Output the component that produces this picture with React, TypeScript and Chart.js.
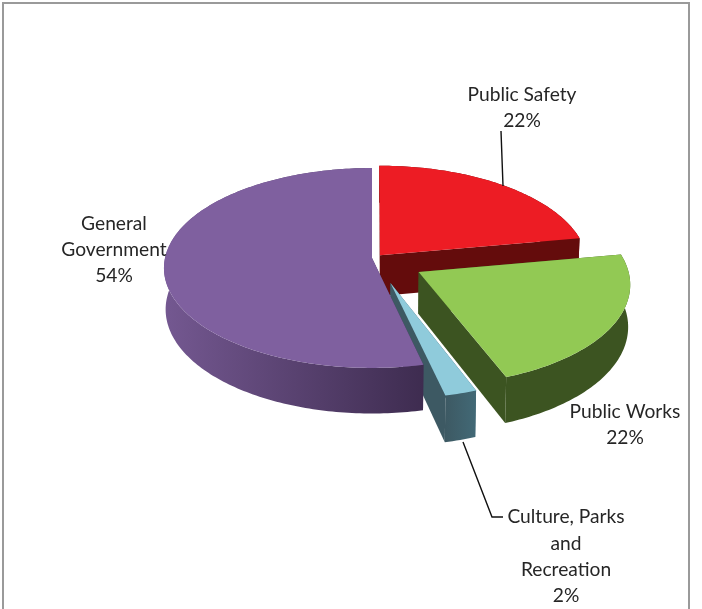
import React, { useEffect, useRef } from "react";
import { Chart, registerables } from "chart.js";

Chart.register(...registerables);

const categories = ["Public Safety", "Public Works", "Culture, Parks and Recreation", "General Government"];
const percentages = [22.2, 22.0, 2.2, 53.6];
const faceColors = ["#ed1c24", "#92c954", "#8fcbdb", "#7f609f"];
const wallLeft = ["#640c0c", "#3c5421", "#3d5963", "#745891"];
const wallRight = ["#640c0c", "#3c5421", "#426976", "#3e2c50"];
// how far each slice is pulled out of the pie, as [sideways, towards viewer] px in the pie plane
const explodeX = [8, 46, 18, 0];
const explodeY = [-6, 29, 51, 0];
const paintOrder = [0, 2, 3, 1];

const labelLines = [
  ["Public Safety", "22%"],
  ["Public Works", "22%"],
  ["Culture, Parks", "and", "Recreation", "2%"],
  ["General", "Government", "54%"],
];
const labelX = [522, 625, 566, 114];
const labelY = [95, 412, 517, 224];
const labelStep = [26, 26, 26.4, 26];

const TILT = 0.478;
const PERSPECTIVE = 0.1;
const DEPTH = 41;

const piePlugin = {
  id: "pie3d",
  beforeDatasetDraw(chart: any) {
    const ctx: CanvasRenderingContext2D = chart.ctx;
    const arcs = chart.getDatasetMeta(0).data;

    const project = (arc: any, px: number, py: number, low: boolean) => {
      const w = 1 / (1 - (PERSPECTIVE * py) / arc.outerRadius);
      const x = arc.x + px * w * (low ? 0.992 : 1);
      const y = arc.y + TILT * py * w + (low ? DEPTH * w : 0);
      return [x, y];
    };
    const trace = (pts: number[][]) => {
      ctx.beginPath();
      pts.forEach((p, i) => (i ? ctx.lineTo(p[0], p[1]) : ctx.moveTo(p[0], p[1])));
      ctx.closePath();
    };

    paintOrder.forEach((i) => {
      const arc = arcs[i];
      const R = arc.outerRadius;
      const ex = explodeX[i];
      const ey = explodeY[i];
      const rim: number[][] = [];
      const steps = Math.max(8, Math.ceil(((arc.endAngle - arc.startAngle) * 180) / Math.PI));
      for (let s = 0; s <= steps; s++) {
        const a = arc.startAngle + ((arc.endAngle - arc.startAngle) * s) / steps;
        rim.push([ex + R * Math.cos(a), ey + R * Math.sin(a)]);
      }
      const topRim = rim.map((p) => project(arc, p[0], p[1], false));
      const lowRim = rim.map((p) => project(arc, p[0], p[1], true));
      const apexTop = project(arc, ex, ey, false);
      const apexLow = project(arc, ex, ey, true);

      const xs = topRim.map((p) => p[0]);
      const grad = ctx.createLinearGradient(Math.min(...xs), 0, Math.max(...xs), 0);
      grad.addColorStop(0, wallLeft[i]);
      grad.addColorStop(1, wallRight[i]);
      ctx.fillStyle = grad;

      trace([apexTop, topRim[0], lowRim[0], apexLow]);
      ctx.fill();
      trace([apexTop, topRim[steps], lowRim[steps], apexLow]);
      ctx.fill();
      trace([...topRim, ...lowRim.slice().reverse()]);
      ctx.fill();

      ctx.fillStyle = arc.options.backgroundColor;
      trace([apexTop, ...topRim]);
      ctx.fill();
    });
    return false;
  },
  afterDraw(chart: any) {
    const ctx: CanvasRenderingContext2D = chart.ctx;
    ctx.save();

    ctx.strokeStyle = "#9a9a9a";
    ctx.lineWidth = 2;
    ctx.beginPath();
    ctx.moveTo(3, 609);
    ctx.lineTo(3, 3);
    ctx.lineTo(689, 3);
    ctx.lineTo(689, 609);
    ctx.stroke();

    ctx.strokeStyle = "#111111";
    ctx.lineWidth = 1.4;
    ctx.beginPath();
    ctx.moveTo(501, 131);
    ctx.lineTo(503, 186);
    ctx.moveTo(463, 442);
    ctx.lineTo(492, 517);
    ctx.lineTo(503, 517);
    ctx.stroke();

    ctx.fillStyle = "#262626";
    ctx.font = '19.2px Lato, "Open Sans", sans-serif';
    ctx.textAlign = "center";
    ctx.textBaseline = "middle";
    labelLines.forEach((lines, i) => {
      lines.forEach((line, j) => ctx.fillText(line, labelX[i], labelY[i] + j * labelStep[i]));
    });
    ctx.restore();
  },
};

export default function App() {
  const ref = useRef<HTMLCanvasElement>(null);
  useEffect(() => {
    const chart = new Chart(ref.current as HTMLCanvasElement, {
      type: "pie",
      data: {
        labels: categories,
        datasets: [{ data: percentages, backgroundColor: faceColors, borderWidth: 0 }],
      },
      options: {
        responsive: false,
        animation: false,
        devicePixelRatio: 1,
        events: [],
        radius: 207,
        layout: { padding: { left: 42, right: 0, top: 0, bottom: 93 } },
        plugins: { legend: { display: false }, tooltip: { enabled: false } },
      } as any,
      plugins: [piePlugin as any],
    });
    return () => chart.destroy();
  }, []);
  return (
    <div style={{ position: "absolute", left: 0, top: 0, width: 702, height: 609, overflow: "hidden", background: "#fff" }}>
      <canvas ref={ref} width={702} height={609} style={{ display: "block" }} />
    </div>
  );
}
